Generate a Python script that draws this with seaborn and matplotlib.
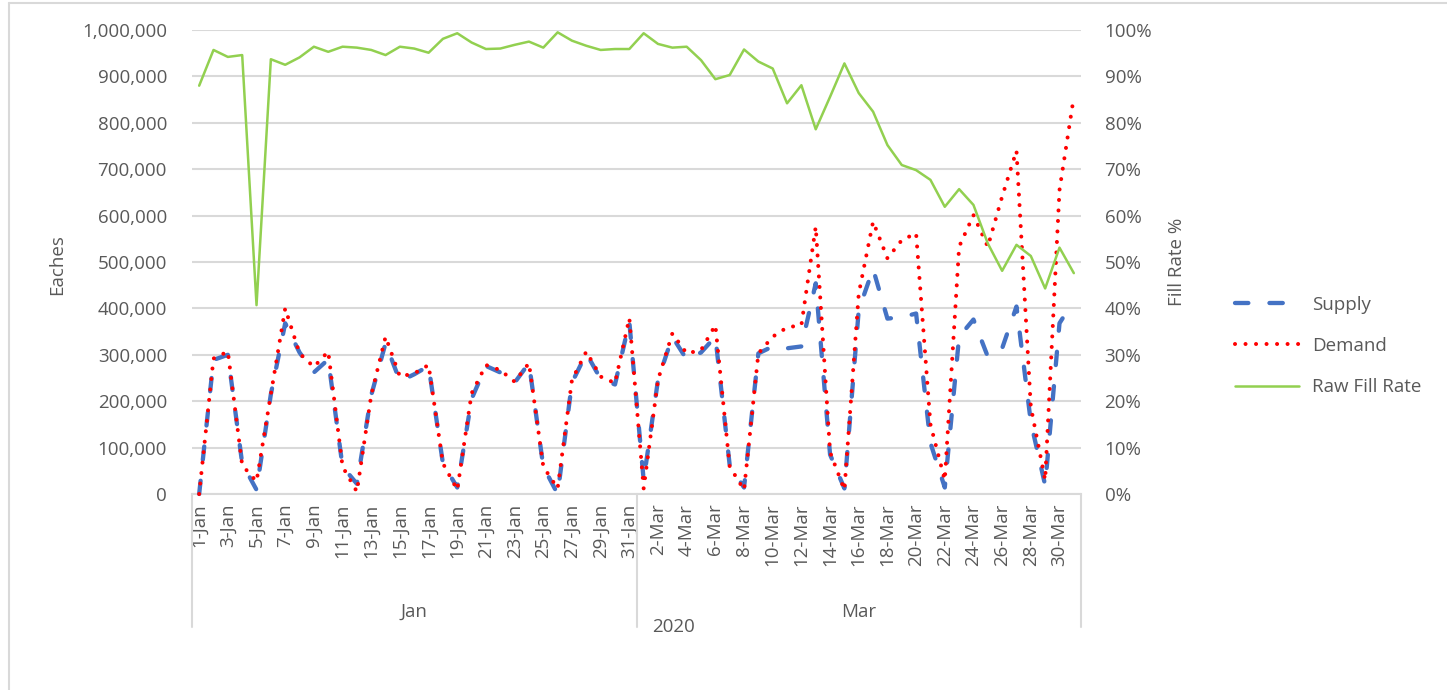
import matplotlib
matplotlib.use("Agg")
import matplotlib.pyplot as plt
import matplotlib.ticker as mticker
import matplotlib.transforms as mtransforms
from matplotlib.lines import Line2D
import numpy as np
import pandas as pd
import seaborn as sns

# ---------------- data ----------------
categories = [f"{d}-Jan" for d in range(1, 32)] + [f"{d}-Mar" for d in range(1, 32)]
month_labels = ["Jan", "Mar"]
year_label = "2020"

supply = [0, 289000, 300000, 66000, 9000, 215000, 368000, 305000, 262000, 290000,
          59000, 22000, 213000, 325000, 243000, 258000, 276000, 66000, 14000, 205000,
          276000, 262000, 240000, 282000, 59000, 0, 240000, 303000, 248000, 236000,
          371000,
          30000, 246000, 339000, 290000, 305000, 339000, 62000, 14000, 303000, 318000,
          314000, 318000, 454000, 85000, 12000, 397000, 485000, 378000, 381000, 389000,
          110000, 14000, 339000, 376000, 296000, 314000, 404000, 155000, 19000, 368000,
          417000]

demand = [0, 292000, 307000, 62000, 27000, 215000, 400000, 303000, 274000, 307000,
          59000, 5000, 213000, 339000, 253000, 260000, 278000, 66000, 9000, 217000,
          278000, 267000, 242000, 282000, 59000, 12000, 246000, 307000, 253000, 239000,
          379000,
          12000, 246000, 346000, 303000, 310000, 364000, 59000, 9000, 303000, 339000,
          359000, 364000, 576000, 90000, 9000, 432000, 587000, 508000, 547000, 562000,
          150000, 30000, 533000, 601000, 533000, 641000, 740000, 188000, 30000, 655000,
          856000]

fill_rate = [0.880, 0.957, 0.942, 0.946, 0.407, 0.937, 0.925, 0.941, 0.964, 0.953,
             0.964, 0.962, 0.957, 0.946, 0.964, 0.960, 0.951, 0.981, 0.993, 0.973,
             0.959, 0.960, 0.968, 0.975, 0.962, 0.995, 0.977, 0.966, 0.957, 0.959,
             0.959,
             0.993, 0.970, 0.962, 0.964, 0.935, 0.894, 0.903, 0.958, 0.932, 0.917,
             0.842, 0.881, 0.786, 0.856, 0.928, 0.864, 0.824, 0.752, 0.709, 0.698,
             0.677, 0.619, 0.657, 0.623, 0.540, 0.481, 0.537, 0.513, 0.443, 0.531,
             0.476]

series_names = ["Supply", "Demand", "Raw Fill Rate"]

# ---------------- style ----------------
sns.set_theme(style="white")
plt.rcParams['font.family'] = ['Open Sans', 'DejaVu Sans']
TXT = "#595959"
GRID = "#D9D9D9"
BLUE = "#4472C4"
RED = "#FF0000"
GREEN = "#92D050"
FS = 13.5

W, H = 1447, 690
df = pd.DataFrame({"idx": np.arange(len(categories)),
                   "Supply": supply, "Demand": demand, "Fill": fill_rate})

fig = plt.figure(figsize=(W / 100, H / 100), dpi=100)
fig.patch.set_facecolor("white")
ax = fig.add_axes([192 / W, 1 - 494 / H, (1081 - 192) / W, (494 - 30) / H])
ax2 = ax.twinx()

supply_ls = (0, (3.1, 4.9))
demand_ls = (0, (0.01, 2.6))

sns.lineplot(data=df, x="idx", y="Supply", ax=ax, color=BLUE, linewidth=3.1,
             linestyle=supply_ls, dash_capstyle="round", errorbar=None,
             clip_on=False, zorder=3)
sns.lineplot(data=df, x="idx", y="Demand", ax=ax, color=RED, linewidth=2.9,
             linestyle=demand_ls, dash_capstyle="round", errorbar=None,
             clip_on=False, zorder=4)
sns.lineplot(data=df, x="idx", y="Fill", ax=ax2, color=GREEN, linewidth=1.8,
             errorbar=None, clip_on=False, zorder=5)

# axes ranges
ax.set_xlim(-0.5, len(categories) - 0.5)
ax.set_ylim(0, 1_000_000)
ax2.set_ylim(0, 1.0)

# y ticks
ax.set_yticks(np.arange(0, 1_000_001, 100_000))
ax.yaxis.set_major_formatter(mticker.FuncFormatter(lambda v, p: f"{v:,.0f}"))
ax2.set_yticks(np.arange(0, 1.0001, 0.1))
ax2.yaxis.set_major_formatter(mticker.FuncFormatter(lambda v, p: f"{v:.0%}"))
ax.tick_params(axis="y", length=0, pad=18, labelsize=FS, labelcolor=TXT)
ax2.tick_params(axis="y", length=0, pad=17, labelsize=FS, labelcolor=TXT)

# x ticks
xt = list(range(0, len(categories), 2))
ax.set_xticks(xt)
ax.set_xticklabels([categories[i] for i in xt], rotation=90)
ax.tick_params(axis="x", length=0, pad=7, labelsize=FS, labelcolor=TXT)

# grid
ax.set_axisbelow(True)
ax.grid(axis="y", color=GRID, linewidth=1.5)
ax.grid(axis="x", visible=False)
ax2.grid(False)

for s in ["left", "right", "top"]:
    ax.spines[s].set_visible(False)
for s in ax2.spines.values():
    s.set_visible(False)
ax.spines["bottom"].set_color(GRID)
ax.spines["bottom"].set_linewidth(1.5)

# labels
ax.set_xlabel("")
ax.set_ylabel("Eaches", fontsize=FS, color=TXT)
ax.yaxis.set_label_coords(-0.1417, 0.4935)
ax2.set_ylabel("Fill Rate %", fontsize=FS, color=TXT)
ax2.yaxis.set_label_coords(1.098, 0.5)

# multi-level category axis
trans = mtransforms.blended_transform_factory(ax.transData, ax.transAxes)
n_jan = 31
for xv in [-0.5, n_jan - 0.5, len(categories) - 0.5]:
    ax.plot([xv, xv], [0, -0.2866], transform=trans, color=GRID, lw=1.5,
            clip_on=False, zorder=1)
ax.text((n_jan - 1) / 2, -0.254, month_labels[0], transform=trans,
        ha="center", va="center", fontsize=FS, color=TXT)
ax.text(n_jan + (len(categories) - n_jan - 1) / 2, -0.254, month_labels[1],
        transform=trans, ha="center", va="center", fontsize=FS, color=TXT)
ax.text(n_jan - 0.5 + 1.1, -0.287, year_label, transform=trans,
        ha="left", va="center", fontsize=FS, color=TXT)

# chart-area border (partially visible)
fig.add_artist(Line2D([9 / W, 9 / W], [0, 1 - 3 / H], transform=fig.transFigure,
                      color=GRID, lw=1.5))
fig.add_artist(Line2D([9 / W, 1], [1 - 3 / H, 1 - 3 / H], transform=fig.transFigure,
                      color=GRID, lw=1.5))

# legend
handles = [
    Line2D([], [], color=BLUE, lw=3.1, linestyle=supply_ls, dash_capstyle="round"),
    Line2D([], [], color=RED, lw=2.9, linestyle=demand_ls, dash_capstyle="round"),
    Line2D([], [], color=GREEN, lw=1.8),
]
fig.legend(handles, series_names, loc="center left",
           bbox_to_anchor=(1235 / W, 1 - 346 / H), frameon=False,
           handlelength=3.4, handletextpad=0.7, labelspacing=1.25,
           borderpad=0, borderaxespad=0, fontsize=FS, labelcolor=TXT)

fig.savefig("out.png", dpi=100, facecolor="white")
